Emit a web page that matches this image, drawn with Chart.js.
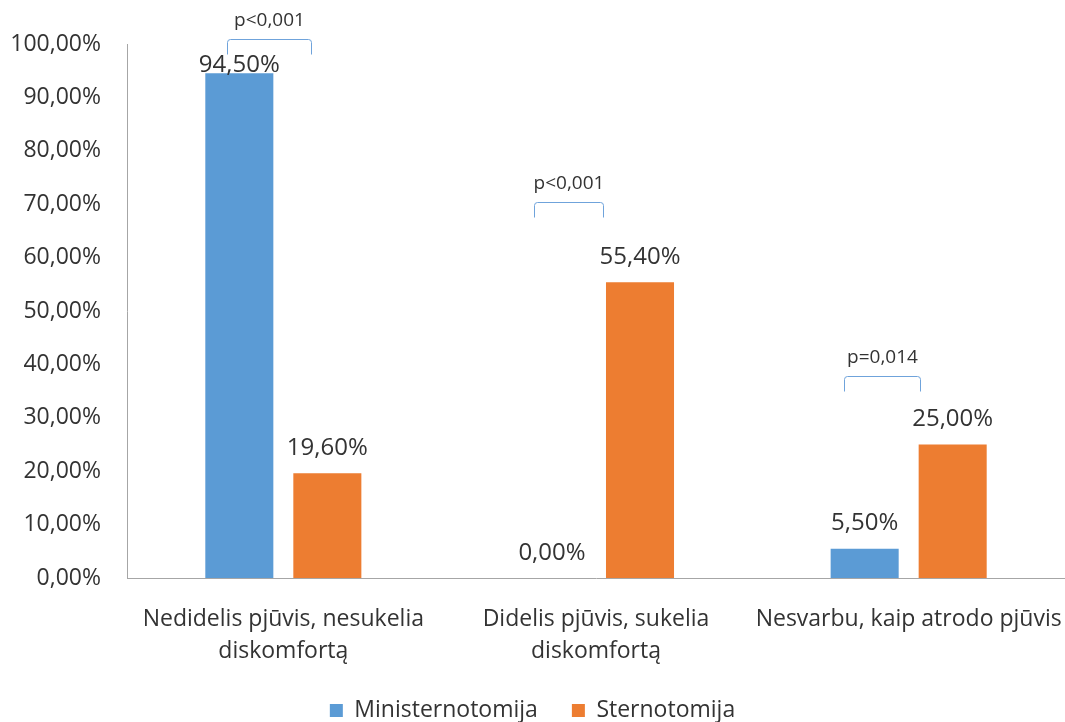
<!DOCTYPE html>
<html>
<head>
<meta charset="utf-8">
<script src="https://cdn.jsdelivr.net/npm/chart.js@4/dist/chart.umd.min.js"></script>
<style>
  html, body { margin: 0; padding: 0; background: #ffffff; }
  #wrap { width: 1065px; height: 722px; }
</style>
</head>
<body>
<div id="wrap"><canvas id="c" width="1065" height="722"></canvas></div>
<script>
// Categories (multi-line labels) and series
const categories = [
  ["Nedidelis pjūvis, nesukelia", "diskomfortą"],
  ["Didelis pjūvis, sukelia", "diskomfortą"],
  "Nesvarbu, kaip atrodo pjūvis"
];
const seriesNames = ["Ministernotomija", "Sternotomija"];
const ministernotomija = [94.5, 0.0, 5.5];
const sternotomija = [19.6, 55.4, 25.0];
const pValues = ["p<0,001", "p<0,001", "p=0,014"];
const yMin = 0, yMax = 100, yStep = 10;

const fontFamily = "'Open Sans', Lato, sans-serif";
const textColor = "#333333";
const colors = ["#5b9bd5", "#ed7d31"];

const fmtPct = v => v.toFixed(2).replace(".", ",") + "%";

// Significance brackets: level in axis units, horizontal span as a share of the category width
const bracketStyle = [
  { level: 100.9, from: -0.179, to: 0.090 },
  { level: 70.5,  from: -0.197, to: 0.021 },
  { level: 37.8,  from: -0.208, to: 0.035 }
];

const valueLabels = {
  id: "valueLabels",
  afterDatasetsDraw(chart) {
    const ctx = chart.ctx;
    const top = chart.chartArea.top;
    ctx.save();
    ctx.font = "24px " + fontFamily;
    ctx.fillStyle = textColor;
    ctx.textAlign = "center";
    ctx.textBaseline = "middle";
    chart.data.datasets.forEach((ds, di) => {
      const meta = chart.getDatasetMeta(di);
      meta.data.forEach((bar, i) => {
        const y = Math.max(bar.y - 25, top + 21);
        ctx.fillText(fmtPct(ds.data[i]), bar.x, y);
      });
    });
    ctx.restore();
  }
};

const brackets = {
  id: "brackets",
  afterDraw(chart) {
    const ctx = chart.ctx;
    const xs = chart.scales.x, ys = chart.scales.y;
    const catW = (xs.right - xs.left) / categories.length;
    ctx.save();
    pValues.forEach((p, i) => {
      const b = bracketStyle[i];
      const cx = xs.getPixelForValue(i);
      const x1 = Math.round(cx + b.from * catW) + 0.5;
      const x2 = Math.round(cx + b.to * catW) + 0.5;
      const yTop = Math.round(ys.getPixelForValue(b.level)) + 0.5;
      const yLeg = yTop + 15;
      const r = 3;
      ctx.strokeStyle = "#6fa3db";
      ctx.lineWidth = 1;
      ctx.beginPath();
      ctx.moveTo(x1, yLeg);
      ctx.lineTo(x1, yTop + r);
      ctx.arcTo(x1, yTop, x1 + r, yTop, r);
      ctx.lineTo(x2 - r, yTop);
      ctx.arcTo(x2, yTop, x2, yTop + r, r);
      ctx.lineTo(x2, yLeg);
      ctx.stroke();
      ctx.font = "19px " + fontFamily;
      ctx.fillStyle = textColor;
      ctx.textAlign = "center";
      ctx.textBaseline = "middle";
      ctx.fillText(p, (x1 + x2) / 2, yTop - 19);
    });
    ctx.restore();
  }
};

new Chart(document.getElementById("c"), {
  type: "bar",
  data: {
    labels: categories,
    datasets: [
      { label: seriesNames[0], data: ministernotomija, backgroundColor: colors[0] },
      { label: seriesNames[1], data: sternotomija, backgroundColor: colors[1] }
    ]
  },
  options: {
    responsive: false,
    animation: false,
    devicePixelRatio: 1,
    categoryPercentage: 0.563,
    barPercentage: 0.773,
    layout: { padding: { top: 44, right: 0, bottom: -10, left: 0 } },
    plugins: {
      tooltip: { enabled: false },
      legend: {
        position: "bottom",
        labels: {
          boxWidth: 13,
          boxHeight: 13,
          padding: 34,
          color: textColor,
          font: { family: fontFamily, size: 23 }
        }
      }
    },
    scales: {
      x: {
        grid: { display: false },
        border: { display: true, color: "#a6a6a6", width: 1 },
        afterFit(scale) {
          scale.height = 87;
          scale.paddingLeft = 0;
          scale.paddingRight = 0;
        },
        ticks: {
          color: textColor,
          font: { family: fontFamily, size: 23, lineHeight: 1.39 },
          padding: 17,
          maxRotation: 0,
          autoSkip: false
        }
      },
      y: {
        min: yMin,
        max: yMax,
        grid: { display: false },
        border: { display: true, color: "#a6a6a6", width: 1 },
        afterFit(scale) { scale.width = 127; },
        ticks: {
          stepSize: yStep,
          color: textColor,
          font: { family: fontFamily, size: 23 },
          padding: 18,
          callback: v => fmtPct(v)
        }
      }
    }
  },
  plugins: [valueLabels, brackets]
});
</script>
</body>
</html>
